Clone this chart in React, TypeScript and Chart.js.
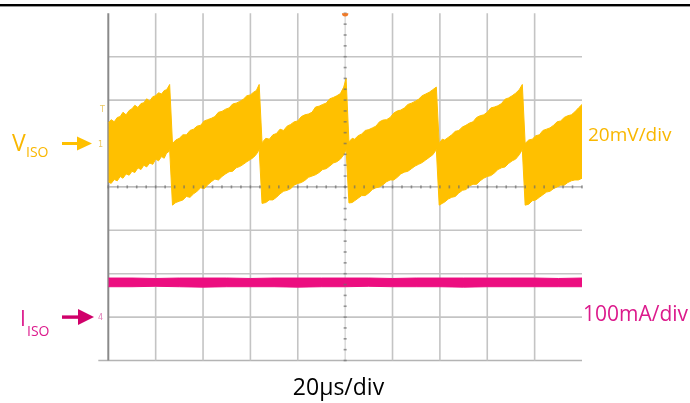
import React, { useEffect, useRef } from "react";
import { Chart, registerables } from "chart.js";
Chart.register(...registerables);

// Time axis: 20 µs/div, 10 divisions. Vertical axis in divisions (-4..4).
const timeMin = 0;
const timeMax = 200;
const divMin = -4;
const divMax = 4;
const timeGridTicks = [0, 20, 40, 60, 80, 100, 120, 140, 160, 180];
const divGridTicks = [-4, -3, -2, -1, 0, 1, 2, 3];

// V_ISO ripple envelope (divisions, 20 mV/div), one row per sawtooth cycle
const vTime = [
  0, 1.2, 2.5, 3.8, 5, 6.2, 7.5, 8.8, 10, 11.2, 12.5, 13.8, 15, 16.2, 17.5, 18.8, 20, 21.2, 22.5, 23.6, 24.6, 25.3, 25.9,
  27.1, 28.5, 30, 31.5, 33, 34.5, 36, 37.5, 39, 40.5, 42, 43.5, 45, 46.5, 48, 49.5, 51, 52.5, 54, 55.5, 57, 58.5, 60, 61.3, 62.5, 63.7,
  64.9, 66.5, 68, 69.5, 71, 72.5, 74, 75.5, 77, 78.5, 80, 81.5, 83, 84.5, 86, 87.5, 89, 90.5, 92, 93.5, 95, 96.5, 98, 99.4, 100.4,
  101.6, 103, 104, 105.5, 107, 108.5, 110, 111.5, 113, 114.5, 116, 117.5, 119, 120.5, 122, 123.5, 125, 126.5, 128, 129.5, 131, 132.5, 134, 135.5, 137, 138.5,
  139.7, 141, 142, 143.5, 145, 146.5, 148, 149.5, 151, 152.5, 154, 155.5, 157, 158.5, 160, 161.5, 163, 164.5, 166, 167.5, 169, 170.5, 172, 173.5, 174.8,
  176, 177.5, 179, 180.5, 182, 183.5, 185, 186.5, 188, 189.5, 191, 192.5, 194, 195.5, 197, 198.5, 200,
];
const vTop = [
  1.47, 1.55, 1.5, 1.6, 1.62, 1.72, 1.66, 1.76, 1.8, 1.88, 1.83, 1.92, 1.94, 2.03, 1.98, 2.08, 2.1, 2.17, 2.14, 2.22, 2.24, 2.3, 2.36,
  1.0, 1.08, 1.12, 1.2, 1.2, 1.3, 1.33, 1.4, 1.42, 1.52, 1.55, 1.58, 1.62, 1.72, 1.74, 1.79, 1.82, 1.91, 1.93, 1.97, 2.02, 2.1, 2.12, 2.18, 2.22, 2.36,
  1.02, 1.12, 1.1, 1.2, 1.23, 1.33, 1.3, 1.4, 1.44, 1.5, 1.52, 1.62, 1.66, 1.68, 1.72, 1.84, 1.86, 1.9, 1.93, 2.03, 2.06, 2.1, 2.15, 2.3, 2.5,
  1.04, 1.12, 1.1, 1.18, 1.22, 1.3, 1.32, 1.36, 1.4, 1.5, 1.54, 1.55, 1.6, 1.7, 1.75, 1.77, 1.82, 1.9, 1.93, 1.97, 2.02, 2.1, 2.14, 2.18, 2.24, 2.3,
  1.0, 1.1, 1.08, 1.14, 1.2, 1.28, 1.3, 1.38, 1.42, 1.47, 1.5, 1.6, 1.64, 1.66, 1.72, 1.82, 1.84, 1.87, 1.92, 2.02, 2.05, 2.1, 2.16, 2.24, 2.36,
  1.0, 1.08, 1.1, 1.18, 1.2, 1.3, 1.33, 1.36, 1.42, 1.5, 1.52, 1.6, 1.64, 1.66, 1.73, 1.82, 1.9,
];
const vBottom = [
  0.12, 0.08, 0.17, 0.14, 0.24, 0.2, 0.3, 0.27, 0.36, 0.33, 0.44, 0.4, 0.5, 0.46, 0.55, 0.52, 0.64, 0.6, 0.7, 0.66, 0.78, 0.8, 0.86,
  -0.42, -0.36, -0.33, -0.3, -0.22, -0.24, -0.16, -0.1, -0.02, -0.04, 0.05, 0.12, 0.18, 0.16, 0.24, 0.3, 0.35, 0.36, 0.44, 0.47, 0.52, 0.58, 0.63, 0.68, 0.75, 0.86,
  -0.38, -0.36, -0.3, -0.3, -0.24, -0.16, -0.1, -0.08, -0.04, 0.04, 0.08, 0.1, 0.15, 0.22, 0.25, 0.28, 0.33, 0.4, 0.42, 0.48, 0.55, 0.58, 0.64, 0.74, 0.86,
  -0.37, -0.36, -0.32, -0.26, -0.2, -0.2, -0.14, -0.06, -0.02, 0.0, 0.05, 0.12, 0.16, 0.16, 0.22, 0.3, 0.34, 0.36, 0.42, 0.48, 0.52, 0.56, 0.62, 0.68, 0.74, 0.86,
  -0.42, -0.38, -0.35, -0.28, -0.24, -0.22, -0.14, -0.08, -0.06, 0.02, 0.06, 0.06, 0.14, 0.2, 0.24, 0.26, 0.32, 0.4, 0.44, 0.46, 0.54, 0.6, 0.64, 0.74, 0.86,
  -0.42, -0.4, -0.32, -0.3, -0.24, -0.18, -0.12, -0.1, -0.04, 0.0, 0.04, 0.04, 0.1, 0.14, 0.16, 0.16, 0.2,
];

// I_ISO trace envelope (divisions, 100 mA/div)
const iTime = [0, 10, 20, 30, 40, 50, 60, 70, 80, 90, 100, 110, 120, 130, 140, 150, 160, 170, 180, 190, 200];
const iTop = [-2.1, -2.1, -2.11, -2.1, -2.1, -2.1, -2.11, -2.1, -2.1, -2.1, -2.1, -2.1, -2.11, -2.1, -2.1, -2.1, -2.1, -2.1, -2.1, -2.11, -2.1];
const iBottom = [-2.3, -2.3, -2.29, -2.3, -2.31, -2.3, -2.3, -2.3, -2.31, -2.3, -2.3, -2.29, -2.3, -2.3, -2.3, -2.31, -2.3, -2.3, -2.3, -2.3, -2.3];

const vRefLevel = 1; // channel 1 marker (div)
const iRefLevel = -3; // channel 4 marker (div)
const trigLevel = 1.8; // trigger level marker (div)

const VCOL = "#FFC000";
const VTEXT = "#F9B700";
const ICOL = "#EC0E80";
const ITEXT = "#DC1A8C";
const IARROW = "#D0006A";

const pts = (xs: number[], ys: number[]) => xs.map((x, i) => ({ x, y: ys[i] }));

const scopePlugin = {
  id: "scopeGrid",
  beforeDatasetsDraw(chart: any) {
    const { ctx, chartArea: a, scales } = chart;
    const x = scales.x;
    const y = scales.y;
    ctx.save();
    divGridTicks.forEach((d) => {
      if (d === 0) return;
      const py = y.getPixelForValue(d);
      ctx.strokeStyle = d === divMin ? "#b4b4b4" : "#c4c4c4";
      ctx.lineWidth = 1.6;
      ctx.beginPath();
      ctx.moveTo(d === divMin ? a.left - 10 : a.left, py);
      ctx.lineTo(a.right, py);
      ctx.stroke();
    });
    timeGridTicks.forEach((t) => {
      if (t === 100) return;
      const px = x.getPixelForValue(t);
      ctx.strokeStyle = t === timeMin ? "#8a8a8a" : "#c4c4c4";
      ctx.lineWidth = t === timeMin ? 2 : 1.6;
      ctx.beginPath();
      ctx.moveTo(px, a.top);
      ctx.lineTo(px, a.bottom);
      ctx.stroke();
    });
    const cx = x.getPixelForValue(100);
    const cy = y.getPixelForValue(0);
    ctx.strokeStyle = "#d2d2d2";
    ctx.lineWidth = 1.2;
    ctx.beginPath();
    ctx.moveTo(cx, a.top);
    ctx.lineTo(cx, a.bottom);
    ctx.stroke();
    ctx.strokeStyle = "#a8a8a8";
    ctx.beginPath();
    ctx.moveTo(a.left, cy);
    ctx.lineTo(a.right, cy);
    ctx.stroke();
    ctx.restore();
  },
  afterDatasetsDraw(chart: any) {
    const { ctx, scales } = chart;
    const x = scales.x;
    const y = scales.y;
    ctx.save();
    const cx = x.getPixelForValue(100);
    const cy = y.getPixelForValue(0);
    ctx.fillStyle = "rgba(110,110,110,0.7)";
    for (let d = divMin; d <= divMax; d += 0.25) {
      const py = y.getPixelForValue(d);
      ctx.fillRect(cx - 1.5, py - 0.8, 3, 1.6);
    }
    for (let t = timeMin; t <= timeMax; t += 4) {
      const px = x.getPixelForValue(t);
      ctx.fillRect(px - 0.8, cy - 1.5, 1.6, 3);
    }
    ctx.restore();
  },
  afterDraw(chart: any) {
    const { ctx, chartArea: a, scales, width } = chart;
    const x = scales.x;
    const y = scales.y;
    ctx.save();
    ctx.fillStyle = "#000";
    ctx.fillRect(0, 4, width, 2.4);
    const cx = x.getPixelForValue(100);
    ctx.fillStyle = "#F07A28";
    ctx.beginPath();
    ctx.arc(cx, a.top, 3.2, 0, Math.PI);
    ctx.fill();
    const vy = y.getPixelForValue(vRefLevel);
    ctx.fillStyle = VCOL;
    ctx.fillRect(62, vy - 1.5, 16, 3);
    ctx.beginPath();
    ctx.moveTo(77, vy - 7);
    ctx.lineTo(92, vy);
    ctx.lineTo(77, vy + 7);
    ctx.closePath();
    ctx.fill();
    const iy = y.getPixelForValue(iRefLevel);
    ctx.fillStyle = IARROW;
    ctx.fillRect(62, iy - 1.7, 17, 3.4);
    ctx.beginPath();
    ctx.moveTo(78, iy - 8);
    ctx.lineTo(94, iy);
    ctx.lineTo(78, iy + 8);
    ctx.closePath();
    ctx.fill();
    ctx.font = "8px 'DejaVu Sans'";
    ctx.fillStyle = "#EBC860";
    ctx.fillText("1", 98, vy + 3);
    ctx.fillText("T", 100, y.getPixelForValue(trigLevel) + 3);
    ctx.fillStyle = "#E080B8";
    ctx.fillText("4", 98, iy + 3);
    ctx.restore();
  },
};

const OS = "'Open Sans', 'Noto Sans', sans-serif";
const txt = (s: string, left: number, baseline: number, size: number, color: string, center = false) => (
  <span
    style={{
      position: "absolute",
      left,
      top: baseline - 0.888 * size,
      fontFamily: OS,
      fontSize: size,
      lineHeight: `${size}px`,
      color,
      whiteSpace: "nowrap",
      transform: center ? "translateX(-50%)" : undefined,
    }}
  >
    {s}
  </span>
);

export default function App() {
  const ref = useRef<HTMLCanvasElement>(null);
  useEffect(() => {
    document.body.style.margin = "0";
    const canvas = ref.current!;
    const chart = new Chart(canvas, {
      type: "line",
      data: {
        datasets: [
          { label: "VISO max", data: pts(vTime, vTop), borderColor: VCOL, backgroundColor: VCOL, borderWidth: 1, pointRadius: 0, tension: 0, fill: "+1" },
          { label: "VISO min", data: pts(vTime, vBottom), borderColor: VCOL, backgroundColor: VCOL, borderWidth: 1, pointRadius: 0, tension: 0, fill: false },
          { label: "IISO max", data: pts(iTime, iTop), borderColor: ICOL, backgroundColor: ICOL, borderWidth: 1, pointRadius: 0, tension: 0, fill: "+1" },
          { label: "IISO min", data: pts(iTime, iBottom), borderColor: ICOL, backgroundColor: ICOL, borderWidth: 1, pointRadius: 0, tension: 0, fill: false },
        ],
      } as any,
      options: {
        responsive: false,
        maintainAspectRatio: false,
        animation: false,
        events: [],
        layout: { padding: { left: 108.3, right: 108, top: 13.3, bottom: 42.5 } },
        plugins: { legend: { display: false }, tooltip: { enabled: false } },
        scales: {
          x: { type: "linear", min: timeMin, max: timeMax, display: false },
          y: { type: "linear", min: divMin, max: divMax, display: false },
        },
      } as any,
      plugins: [scopePlugin],
    });
    return () => chart.destroy();
  }, []);

  return (
    <div style={{ position: "relative", width: 690, height: 403, background: "#fff", overflow: "hidden" }}>
      <canvas ref={ref} width={690} height={403} style={{ position: "absolute", left: 0, top: 0, display: "block" }} />
      {txt("V", 12, 151, 23, VTEXT)}
      {txt("ISO", 26, 157, 14, VTEXT)}
      {txt("20mV/div", 588, 142, 19, VTEXT)}
      {txt("I", 20, 327, 21, ITEXT)}
      {txt("ISO", 27, 336, 14, ITEXT)}
      {txt("100mA/div", 583, 322, 21, ITEXT)}
      {txt("20µs/div", 338.5, 395, 23, "#000", true)}
    </div>
  );
}
